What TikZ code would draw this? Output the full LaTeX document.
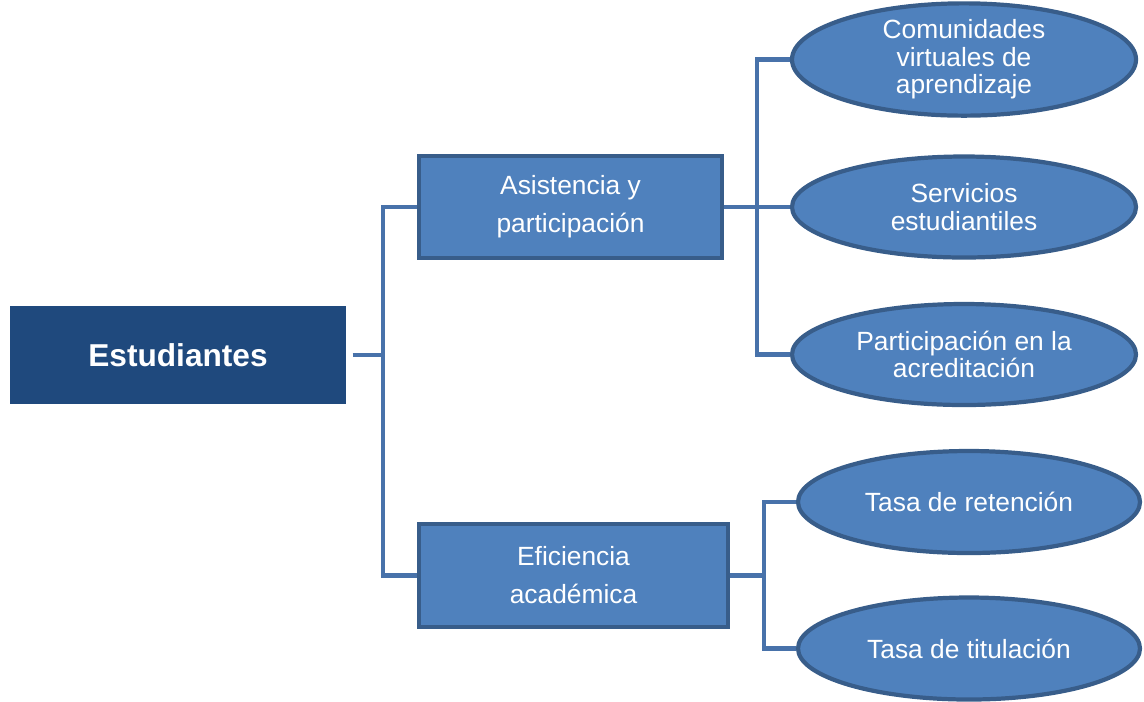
\documentclass[tikz,border=0pt]{standalone}
\usepackage{fontspec}
\setmainfont{Liberation Sans}
\usetikzlibrary{shapes.geometric,backgrounds}
\definecolor{oscuro}{RGB}{31,73,125}
\definecolor{relleno}{RGB}{79,129,189}
\definecolor{borde}{RGB}{56,93,138}
\definecolor{linea}{RGB}{72,114,170}

\begin{document}
\begin{tikzpicture}[
    caja/.style={rectangle,draw=borde,fill=relleno,line width=1.2pt,text=white,align=center,
      font=\fontsize{7.5}{10.8}\selectfont,inner sep=0pt},
    elipse/.style={ellipse,draw=borde,fill=relleno,line width=1.2pt,text=white,align=center,
      font=\fontsize{7.5}{7.8}\selectfont,inner sep=0pt,minimum width=3.44cm,minimum height=1.01cm},
    conn/.style={draw=linea,line width=1.3pt}]
    \useasboundingbox (0,0) rectangle (11.44,-7.01);

    % raiz
    \node[rectangle,fill=oscuro,text=white,minimum width=3.36cm,minimum height=0.98cm,
      font=\fontsize{9}{11}\selectfont\bfseries] (est) at (1.78,-3.55) {Estudiantes};

    % segundo nivel
    \node[caja,minimum width=3.03cm,minimum height=1.02cm] (asis) at (5.705,-2.07) {Asistencia y\\participación};
    \node[caja,minimum width=3.09cm,minimum height=1.03cm] (efic) at (5.735,-5.755) {Eficiencia\\académica};

    % tercer nivel
    \node[elipse] (comu) at (9.64,-0.595) {Comunidades\\virtuales de\\aprendizaje};
    \node[elipse] (serv) at (9.64,-2.07) {Servicios\\estudiantiles};
    \node[elipse] (part) at (9.64,-3.545) {Participación en la\\acreditación};
    \node[elipse,minimum width=3.42cm,minimum height=1.02cm] (ret) at (9.69,-5.02) {Tasa de retención};
    \node[elipse,minimum width=3.42cm,minimum height=1.02cm] (tit) at (9.69,-6.485) {Tasa de titulación};

    \coordinate (j1) at (3.83,-3.55);
    \coordinate (j2) at (7.57,-2.07);
    \coordinate (j3) at (7.64,-5.755);

    \begin{pgfonlayer}{background}
    \draw[conn] ([xshift=0.06cm]est.east) -- (j1);
    \draw[conn] (asis.west) -| (j1) |- (efic.west);
    \draw[conn] (asis.east) -- (j2);
    \draw[conn] (comu.west) -| (j2) |- (part.west);
    \draw[conn] (j2) -- (serv.west);
    \draw[conn] (efic.east) -- (j3);
    \draw[conn] (ret.west) -| (j3) |- (tit.west);
    \end{pgfonlayer}

\end{tikzpicture}
\end{document}
